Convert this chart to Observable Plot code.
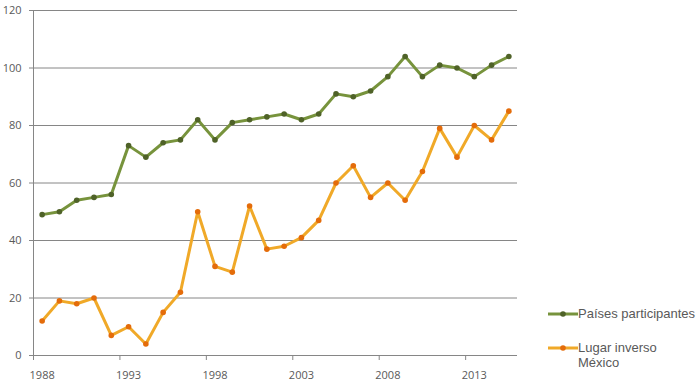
<!DOCTYPE html>
<html>
<head>
<meta charset="utf-8">
<script src="https://cdn.jsdelivr.net/npm/d3@7"></script>
<script src="https://cdn.jsdelivr.net/npm/@observablehq/plot@0.6"></script>
<style>
  body { margin: 0; background: #fff; }
  #wrap { position: relative; width: 700px; height: 390px; font-family: "Open Sans", sans-serif; }
  #legend { position: absolute; left: 548px; top: 306px; font-family: "Liberation Sans", Arial, sans-serif; font-size: 13px; color: #595959; }
  .item { display: flex; align-items: flex-start; margin-bottom: 19px; }
  .item svg { flex: none; margin-top: 2px; }
  .item span { line-height: 15px; }
</style>
</head>
<body>
<div id="wrap"></div>
<script>
const years = [1988,1989,1990,1991,1992,1993,1994,1995,1996,1997,1998,1999,2000,2001,2002,2003,2004,2005,2006,2007,2008,2009,2010,2011,2012,2013,2014,2015];
const paises = [49,50,54,55,56,73,69,74,75,82,75,81,82,83,84,82,84,91,90,92,97,104,97,101,100,97,101,104];
const lugarInverso = [12,19,18,20,7,10,4,15,22,50,31,29,52,37,38,41,47,60,66,55,60,54,64,79,69,80,75,85];
const yTicks = [0,20,40,60,80,100,120];
const xLabelTicks = [1988,1993,1998,2003,2008,2013];
const seriesNames = ["Países participantes", "Lugar inverso\nMéxico"];
const lineColors = ["#77933C", "#F0A928"];
const dotColors = ["#4F6228", "#E46C0A"];

const data = [];
years.forEach((y, i) => {
  data.push({year: y, value: paises[i], serie: seriesNames[0]});
  data.push({year: y, value: lugarInverso[i], serie: seriesNames[1]});
});
const xEdges = [years[0] - 0.5, ...xLabelTicks.slice(1).map(t => t - 0.5)];

const chart = Plot.plot({
  width: 700,
  height: 390,
  marginTop: 10,
  marginBottom: 35,
  marginLeft: 33,
  marginRight: 183,
  style: {fontFamily: "'Open Sans', sans-serif", fontSize: "11px", color: "#595959"},
  x: {domain: [years[0] - 0.5, years[years.length - 1] + 0.5]},
  y: {domain: [0, 120]},
  color: {domain: seriesNames, range: lineColors},
  marks: [
    Plot.ruleY(yTicks, {stroke: "#868686", strokeOpacity: 1}),
    Plot.axisY({ticks: yTicks, tickSize: 4, tickPadding: 8, stroke: "#868686", label: null, fill: "#595959"}),
    Plot.ruleX([years[0] - 0.5], {stroke: "#868686", y1: 0, y2: 120}),
    Plot.axisX({ticks: xEdges, tickSize: 5, tickFormat: () => "", stroke: "#868686", label: null}),
    Plot.axisX({ticks: xLabelTicks, tickSize: 0, tickPadding: 16, tickFormat: d => String(d), label: null, fill: "#595959"}),
    Plot.lineY(data, {x: "year", y: "value", stroke: "serie", strokeWidth: 3, curve: "linear"}),
    Plot.dot(data, {x: "year", y: "value", fill: d => d.serie === seriesNames[0] ? dotColors[0] : dotColors[1], r: 2.8, stroke: "none"})
  ]
});
const wrap = document.getElementById("wrap");
wrap.appendChild(chart);

const legend = document.createElement("div");
legend.id = "legend";
seriesNames.forEach((name, i) => {
  const item = document.createElement("div");
  item.className = "item";
  item.innerHTML = `<svg width="30" height="12"><line x1="0" y1="6" x2="30" y2="6" stroke="${lineColors[i]}" stroke-width="3"/><circle cx="15" cy="6" r="2.8" fill="${dotColors[i]}"/></svg><span>${name.replace("\n", "<br>")}</span>`;
  legend.appendChild(item);
});
wrap.appendChild(legend);
</script>
</body>
</html>
